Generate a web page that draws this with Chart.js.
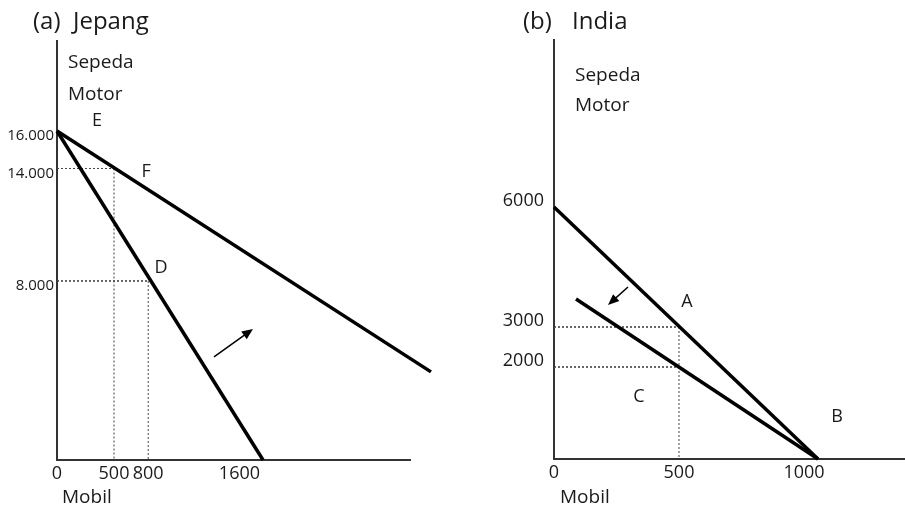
<!DOCTYPE html>
<html>
<head>
<meta charset="utf-8">
<script src="https://cdn.jsdelivr.net/npm/chart.js@4.4.1/dist/chart.umd.min.js"></script>
<style>
body { margin: 0; background: #fff; width: 905px; height: 510px; overflow: hidden; position: relative; }
.panel { position: absolute; top: 0; height: 510px; }
#wrapA { left: 0; width: 452px; }
#wrapB { left: 452px; width: 453px; }
</style>
</head>
<body>
<div class="panel" id="wrapA"><canvas id="chartA" width="452" height="510"></canvas></div>
<div class="panel" id="wrapB"><canvas id="chartB" width="453" height="510"></canvas></div>
<script>
// (a) Jepang
const jpTicksX = [0, 500, 800, 1600];
const jpTicksY = [8000, 14000, 16000];
const jpTickLabelsY = ['8.000', '14.000', '16.000'];
const jpMinY = -1550;
const jpSteepX = [0, 1807];
const jpSteepY = [16000, jpMinY];
const jpFlatX = [0, 3280];
const jpFlatY = [16000, 3150];
const jpPointLabels = ['E', 'F', 'D'];
const jpPointX = [351, 781, 912];
const jpPointY = [16530, 13810, 8690];
const jpArrowFrom = [1377, 3950];
const jpArrowTo = [1719, 5440];

// (b) India
const inTicksX = [0, 500, 1000];
const inTicksY = [2000, 3000, 6000];
const inMinY = -300;
const inSteepX = [0, 1056];
const inSteepY = [6000, inMinY];
const inFlatX = [88, 1056];
const inFlatY = [3700, inMinY];
const inPointLabels = ['A', 'C', 'B'];
const inPointX = [532, 340, 1132];
const inPointY = [3625, 1250, 750];
const inArrowFrom = [296, 4000];
const inArrowTo = [216, 3550];

const FONT = '"Open Sans", sans-serif';
const INK = '#1a1a1a';

function pts(xs, ys) {
    return xs.map((x, i) => ({ x: x, y: ys[i] }));
}

function mainLine(xs, ys) {
    return { data: pts(xs, ys), showLine: true, borderColor: '#000', borderWidth: 3.5,
        pointRadius: 0, clip: false, borderCapStyle: 'butt' };
}

function guide(xs, ys, w) {
    return { data: pts(xs, ys), showLine: true, borderColor: '#444', borderWidth: w || 1,
        borderDash: [2, 2], pointRadius: 0, clip: false };
}

// textes libres, lettres des points et flèches
const annotate = {
    id: 'annotate',
    afterDatasetsDraw(chart, args, opts) {
        const ctx = chart.ctx;
        const xs = chart.scales.x, ys = chart.scales.y;
        ctx.save();
        ctx.fillStyle = INK;
        ctx.textBaseline = 'middle';
        ctx.textAlign = 'left';
        opts.texts.forEach(t => {
            ctx.font = t.size + 'px ' + FONT;
            ctx.fillText(t.text, t.x, t.y);
        });
        ctx.textAlign = 'center';
        ctx.font = '18px ' + FONT;
        opts.labels.forEach((l, i) => {
            ctx.fillText(l, xs.getPixelForValue(opts.lx[i]), ys.getPixelForValue(opts.ly[i]));
        });
        const x0 = xs.getPixelForValue(opts.from[0]), y0 = ys.getPixelForValue(opts.from[1]);
        const x1 = xs.getPixelForValue(opts.to[0]), y1 = ys.getPixelForValue(opts.to[1]);
        const ang = Math.atan2(y1 - y0, x1 - x0);
        ctx.strokeStyle = '#000';
        ctx.lineWidth = 1.5;
        ctx.beginPath();
        ctx.moveTo(x0, y0);
        ctx.lineTo(x1 - 8 * Math.cos(ang), y1 - 8 * Math.sin(ang));
        ctx.stroke();
        ctx.fillStyle = '#000';
        ctx.beginPath();
        ctx.moveTo(x1, y1);
        ctx.lineTo(x1 - 12 * Math.cos(ang - 0.4), y1 - 12 * Math.sin(ang - 0.4));
        ctx.lineTo(x1 - 12 * Math.cos(ang + 0.4), y1 - 12 * Math.sin(ang + 0.4));
        ctx.closePath();
        ctx.fill();
        ctx.restore();
    }
};

function makeChart(id, cfg) {
    return new Chart(document.getElementById(id), {
        type: 'scatter',
        data: { datasets: cfg.datasets },
        options: {
            responsive: false,
            animation: false,
            layout: { padding: cfg.padding },
            plugins: {
                legend: { display: false },
                tooltip: { enabled: false },
                annotate: cfg.annotate
            },
            scales: {
                x: {
                    type: 'linear', min: cfg.xMin, max: cfg.xMax,
                    grid: { display: false, drawTicks: false },
                    border: { color: '#333', width: 2 },
                    afterFit: s => { s.height = cfg.xHeight; },
                    afterBuildTicks: s => { s.ticks = cfg.ticksX.map(v => ({ value: v })); },
                    ticks: { color: INK, font: { family: FONT, size: 18 }, padding: 3,
                        maxRotation: 0, autoSkip: false, callback: v => String(v) }
                },
                y: {
                    type: 'linear', min: cfg.yMin, max: cfg.yMax,
                    grid: { display: false, drawTicks: false },
                    border: { color: '#333', width: 2 },
                    afterFit: s => { s.width = cfg.yWidth; },
                    afterBuildTicks: s => { s.ticks = cfg.ticksY.map(v => ({ value: v })); },
                    ticks: { color: INK, font: { family: FONT, size: cfg.yFont }, padding: cfg.yPad,
                        labelOffset: cfg.yOffset, autoSkip: false, callback: cfg.yLabel }
                }
            }
        },
        plugins: [annotate]
    });
}

makeChart('chartA', {
    padding: { top: 41, right: 42, left: 0, bottom: 0 },
    xMin: 0, xMax: 3096, yMin: jpMinY, yMax: 20800,
    xHeight: 50, yWidth: 57, yFont: 15, yPad: 3, yOffset: 5,
    ticksX: jpTicksX, ticksY: jpTicksY,
    yLabel: v => jpTickLabelsY[jpTicksY.indexOf(v)],
    datasets: [
        mainLine(jpSteepX, jpSteepY),
        mainLine(jpFlatX, jpFlatY),
        guide([0, 500], [14000, 14000]),
        guide([500, 500], [14000, jpMinY]),
        guide([0, 800], [8000, 8000], 1.6),
        guide([800, 800], [8000, jpMinY])
    ],
    annotate: {
        texts: [
            { text: '(a)', x: 33, y: 22, size: 24 },
            { text: 'Jepang', x: 73, y: 22, size: 24 },
            { text: 'Sepeda', x: 68, y: 63, size: 19 },
            { text: 'Motor', x: 68, y: 95, size: 19 },
            { text: 'Mobil', x: 62, y: 498, size: 19 }
        ],
        labels: jpPointLabels, lx: jpPointX, ly: jpPointY,
        from: jpArrowFrom, to: jpArrowTo
    }
});

makeChart('chartB', {
    padding: { top: 40, right: 0, left: 0, bottom: 0 },
    xMin: 0, xMax: 1404, yMin: inMinY, yMax: 10175,
    xHeight: 51, yWidth: 102, yFont: 18, yPad: 10, yOffset: -6,
    ticksX: inTicksX, ticksY: inTicksY,
    yLabel: v => String(v),
    datasets: [
        mainLine(inSteepX, inSteepY),
        mainLine(inFlatX, inFlatY),
        guide([0, 500], [3000, 3000], 1.6),
        guide([0, 500], [2000, 2000], 1.6),
        guide([500, 500], [3000, inMinY])
    ],
    annotate: {
        texts: [
            { text: '(b)', x: 71, y: 22, size: 24 },
            { text: 'India', x: 120, y: 22, size: 24 },
            { text: 'Sepeda', x: 123, y: 76, size: 19 },
            { text: 'Motor', x: 123, y: 106, size: 19 },
            { text: 'Mobil', x: 108, y: 498, size: 19 }
        ],
        labels: inPointLabels, lx: inPointX, ly: inPointY,
        from: inArrowFrom, to: inArrowTo
    }
});
</script>
</body>
</html>
